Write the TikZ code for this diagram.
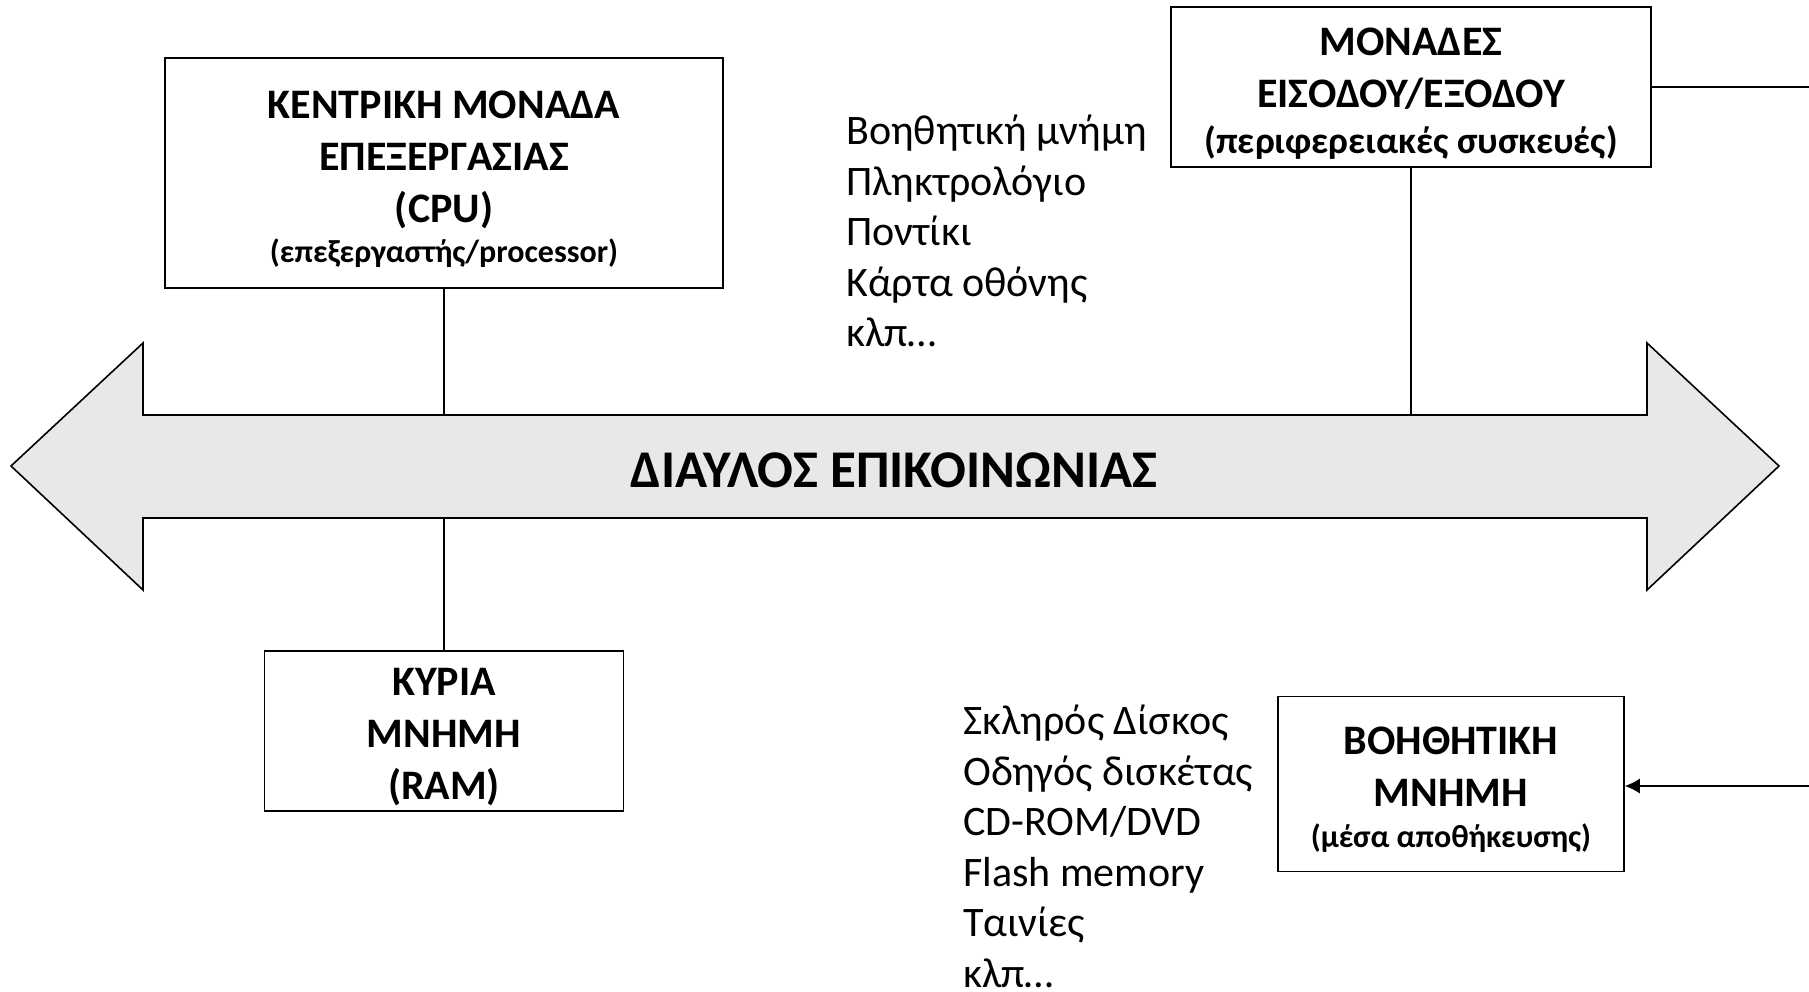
\documentclass[tikz,border=0pt]{standalone}
\usepackage{fontspec}
\setmainfont{Carlito}
\usetikzlibrary{arrows.meta,positioning}

% pushes the first line of a box down
\newcommand{\boxlift}{\rule{0pt}{40pt}}

\begin{document}
\begin{tikzpicture}[
      x=1pt, y=-1pt,
      elem/.style={rectangle, draw, line width=1.6pt, inner sep=0pt,
                   align=center, font=\fontsize{42}{52}\selectfont\bfseries},
      item/.style={align=left, inner sep=0pt, anchor=north west,
                   font=\fontsize{42}{50.5}\selectfont},
      wire/.style={line width=1.4pt}
    ]
      \useasboundingbox (0,0) rectangle (1809,992);

      % the bus
      \draw[line width=1.6pt, fill=black!9, line join=miter]
        (11,466) -- (143,343) -- (143,415) -- (1647,415) -- (1647,343)
        -- (1779,466) -- (1647,590) -- (1647,518) -- (143,518)
        -- (143,590) -- cycle;
      \coordinate (bus_top) at (0,415);
      \coordinate (bus_bottom) at (0,518);
      \node[font=\fontsize{53}{60}\selectfont\bfseries] (bus) at (894,470)
        {ΔΙΑΥΛΟΣ ΕΠΙΚΟΙΝΩΝΙΑΣ};

      \node[elem, minimum width=558, minimum height=230]
        (cpu) at (444,173)
        {\boxlift ΚΕΝΤΡΙΚΗ ΜΟΝΑΔΑ\\ΕΠΕΞΕΡΓΑΣΙΑΣ\\(CPU)\\[-12pt]
         {\fontsize{32}{38}\selectfont (επεξεργαστής/processor)}};
      \node[elem, minimum width=480, minimum height=160]
        (io) at (1411,87)
        {\boxlift ΜΟΝΑΔΕΣ\\ΕΙΣΟΔΟΥ/ΕΞΟΔΟΥ\\[-6pt]
         {\fontsize{37.5}{44}\selectfont (περιφερειακές συσκευές)}};
      \node[elem, minimum width=359, minimum height=160]
        (ram) at (444,731)
        {\boxlift ΚΥΡΙΑ\\ΜΝΗΜΗ\\(RAM)};
      \node[elem, minimum width=346, minimum height=175]
        (aux) at (1451,784)
        {\boxlift ΒΟΗΘΗΤΙΚΗ\\ΜΝΗΜΗ\\[-11pt]
         {\fontsize{32}{38}\selectfont (μέσα αποθήκευσης)}};

      \node[item] (io_list) at (846,115)
        {Βοηθητική μνήμη\\Πληκτρολόγιο\\Ποντίκι\\Κάρτα οθόνης\\κλπ…};
      \node[item] (aux_list) at (963,705)
        {Σκληρός Δίσκος\\Οδηγός δισκέτας\\CD-ROM/DVD\\Flash memory\\Ταινίες\\κλπ…};

      \coordinate (io_edge) at (1809,87);
      \coordinate (aux_edge) at (1809,786);

      \draw[wire] (cpu.south) -- (cpu.south |- bus_top);
      \draw[wire] (io.south) -- (io.south |- bus_top);
      \draw[wire] (ram.north) -- (ram.north |- bus_bottom);
      \draw[wire] (io.east) -- (io_edge);
      \draw[wire, -{Latex[length=15pt, width=15pt]}]
        (aux_edge) -- (aux.east |- aux_edge);
    \end{tikzpicture}
\end{document}
